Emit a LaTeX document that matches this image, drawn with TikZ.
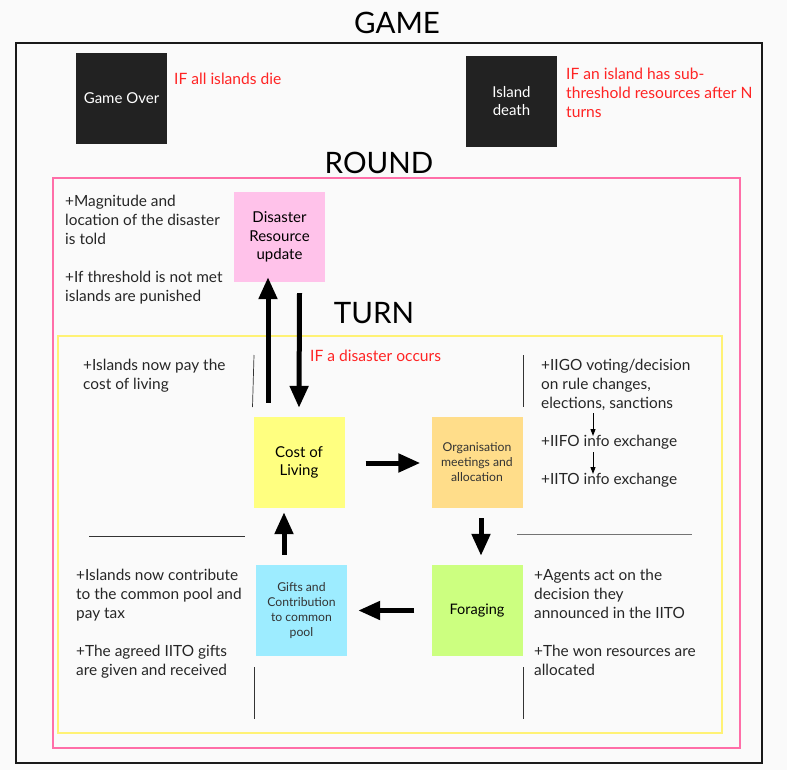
\documentclass[tikz,border=0pt]{standalone}
\usepackage{fontspec}
\setmainfont{Lato}
\usetikzlibrary{arrows.meta,calc}
\definecolor{bg}{HTML}{FAFAFA}
\definecolor{darkbox}{HTML}{222222}
\definecolor{pinkframe}{HTML}{FF6EA8}
\definecolor{yellowframe}{HTML}{FFF275}
\definecolor{redtext}{HTML}{FF2424}
\definecolor{pinkfill}{HTML}{FFC2EA}
\definecolor{yellowfill}{HTML}{FFFF80}
\definecolor{orangefill}{HTML}{FFDD8A}
\definecolor{cyanfill}{HTML}{9DECFF}
\definecolor{greenfill}{HTML}{CCFF80}
\definecolor{textgray}{HTML}{333333}
\tikzset{
  title/.style={font=\fontsize{29.5}{32}\selectfont, text=black, inner sep=0pt},
  darkcard/.style={fill=darkbox, draw=none, minimum width=91pt, minimum height=91pt, text=white, align=center, font=\fontsize{15}{18}\selectfont, inner sep=0pt},
  card/.style={draw=none, minimum width=91pt, minimum height=91pt, align=center, inner sep=0pt, text=black, font=\fontsize{15}{18.5}\selectfont},
  smallcard/.style={card, text=textgray, font=\fontsize{12.2}{15}\selectfont},
  note/.style={anchor=north west, align=left, inner sep=0pt, text=black!85, font=\fontsize{15.4}{19}\selectfont},
  rednote/.style={note, text=redtext, font=\fontsize{15.6}{19}\selectfont},
  bigarrow/.style={line width=5pt, -{Triangle[length=22pt,width=18pt]}},
  thinarrow/.style={line width=1pt, -{Triangle[length=7pt,width=5pt]}},
  sep/.style={line width=0.7pt, draw=black!80},
}
\begin{document}
\begin{tikzpicture}[x=1pt,y=-1pt]
\fill[bg] (0,0) rectangle (787,770);
\useasboundingbox (0,0) rectangle (787,770);

% frames
\draw[line width=2pt, black!90] (16,43) rectangle (762,763);
\draw[line width=2pt, pinkframe] (53,178) rectangle (740,748);
\draw[line width=2pt, yellowframe] (58,336) rectangle (722,733);

% titles
\node[title] (game) at (397,23) {GAME};
\node[title] (round) at (379,163) {ROUND};
\node[title] (turn) at (374,313) {TURN};

% game level
\node[darkcard] (gameover) at (121.5,98.5) {Game Over};
\node[rednote] (gameovernote) at (174,72.5) {IF all islands die};
\node[darkcard] (island) at (511.5,101.5) {Island\\death};
\node[rednote] (islandnote) at (566,67.5) {IF an island has sub-\\threshold resources after N\\turns};

% round level
\node[card, fill=pinkfill, minimum height=90pt] (disaster) at (279.5,237) {Disaster\\Resource\\update};
\node[note] (disasternote) at (65,194.5) {+Magnitude and\\location of the disaster\\is told\\[19pt]+If threshold is not met\\islands are punished};

% turn level
\node[card, fill=yellowfill] (cost) at (299,462.5) {Cost of\\Living};
\node[smallcard, fill=orangefill] (org) at (477,462.5) {Organisation\\meetings and\\allocation};
\node[smallcard, fill=cyanfill] (gifts) at (301.5,610.5) {Gifts and\\Contribution\\to common\\pool};
\node[card, fill=greenfill, font=\fontsize{14.5}{18}\selectfont] (forage) at (477,610.5) {Foraging};

\node[rednote] (disasterif) at (310,349.5) {IF a disaster occurs};
\node[note] (costnote) at (83,358.5) {+Islands now pay the\\cost of living};
\node[note] (orgnote) at (541,358.5) {+IIGO voting/decision\\on rule changes,\\elections, sanctions};
\node[note] (iifo) at (541,434.5) {+IIFO info exchange};
\node[note] (iito) at (541,472.5) {+IITO info exchange};
\node[note] (giftsnote) at (76,568.5) {+Islands now contribute\\to the common pool and\\pay tax\\[19pt]+The agreed IITO gifts\\are given and received};
\node[note] (foragenote) at (534,568.5) {+Agents act on the\\decision they\\announced in the IITO\\[19pt]+The won resources are\\allocated};

% separators
\draw[sep] (254,355) -- (252.5,407);
\draw[sep] (523,355) -- (523,407);
\draw[sep] (89,536) -- (245,536);
\draw[sep, black!55] (517,534) -- (692,534);
\draw[sep] (254,667) -- (254,719);
\draw[sep] (523,667) -- (523,719);

% connectors
\draw[bigarrow] ($(cost.north)+(-31,-14)$) -- ($(disaster.south)+(-11.5,-5)$);
\draw[bigarrow] ($(disaster.south)+(20,11)$) -- ($(cost.north)+(0,-9)$);
\draw[bigarrow] ($(cost.east)+(21,0.5)$) -- ($(org.west)+(-11,0.5)$);
\draw[bigarrow] ($(org.south)+(4,10)$) -- ($(forage.north)+(4,-9)$);
\draw[bigarrow] ($(forage.west)+(-17,0)$) -- ($(gifts.east)+(11,0)$);
\draw[bigarrow] ($(gifts.north)+(-17.5,-10)$) -- ($(cost.south)+(-15,4)$);
\draw[thinarrow] ($(orgnote.south west)+(52,3)$) -- ($(iifo.north west)+(52,1.5)$);
\draw[thinarrow] ($(iifo.south west)+(52,3)$) -- ($(iito.north west)+(52,1.5)$);
\end{tikzpicture}
\end{document}
